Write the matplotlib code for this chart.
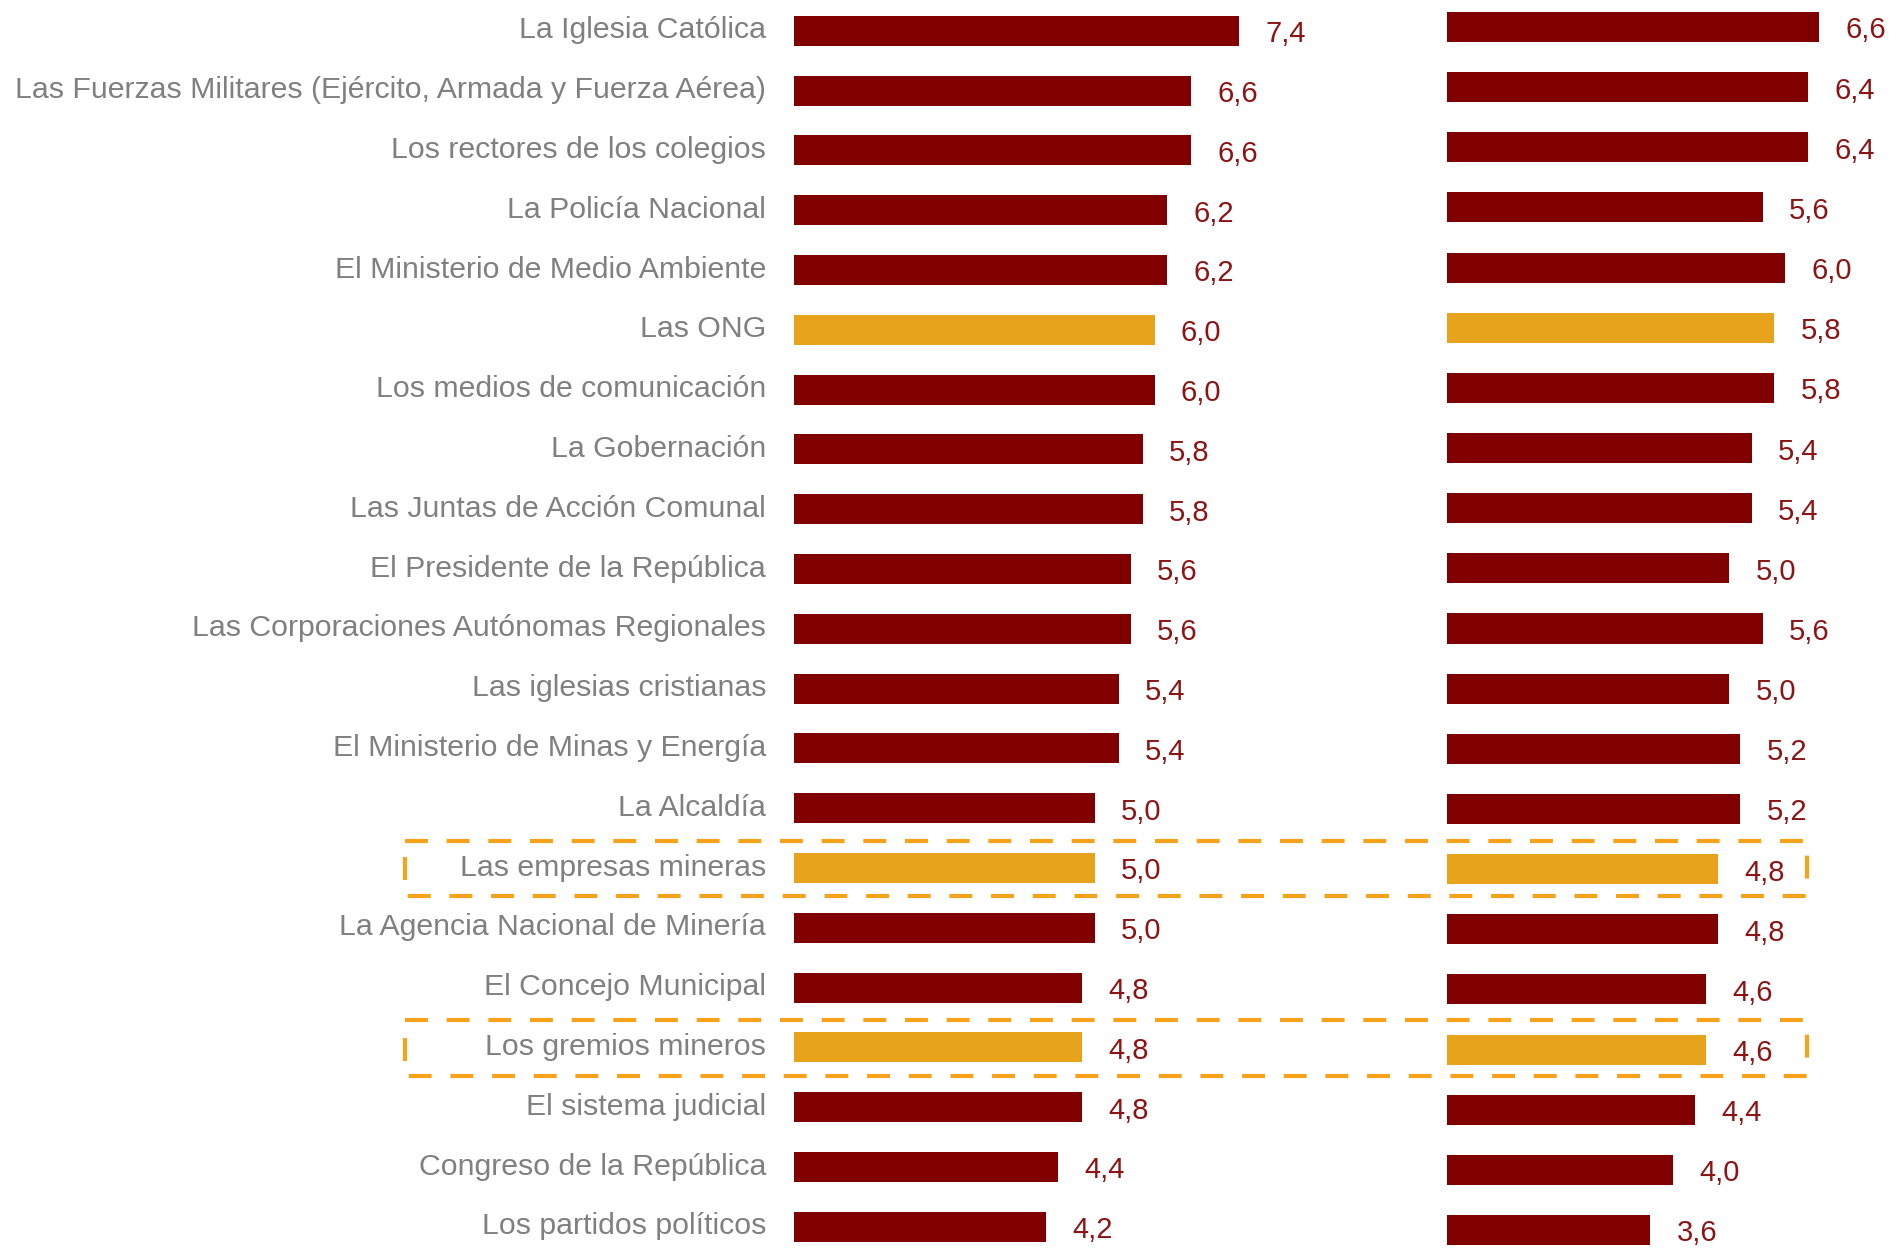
import numpy as np
import matplotlib.pyplot as plt
import matplotlib.transforms as mtransforms
from matplotlib.patches import Rectangle

plt.rcParams['font.family'] = ['Liberation Sans', 'DejaVu Sans']

# data
categories = ['La Iglesia Católica',
              'Las Fuerzas Militares (Ejército, Armada y Fuerza Aérea)',
              'Los rectores de los colegios',
              'La Policía Nacional',
              'El Ministerio de Medio Ambiente',
              'Las ONG',
              'Los medios de comunicación',
              'La Gobernación',
              'Las Juntas de Acción Comunal',
              'El Presidente de la República',
              'Las Corporaciones Autónomas Regionales',
              'Las iglesias cristianas',
              'El Ministerio de Minas y Energía',
              'La Alcaldía',
              'Las empresas mineras',
              'La Agencia Nacional de Minería',
              'El Concejo Municipal',
              'Los gremios mineros',
              'El sistema judicial',
              'Congreso de la República',
              'Los partidos políticos']
left_vals = [7.4, 6.6, 6.6, 6.2, 6.2, 6.0, 6.0, 5.8, 5.8, 5.6, 5.6,
             5.4, 5.4, 5.0, 5.0, 5.0, 4.8, 4.8, 4.8, 4.4, 4.2]
right_vals = [6.6, 6.4, 6.4, 5.6, 6.0, 5.8, 5.8, 5.4, 5.4, 5.0, 5.6,
              5.0, 5.2, 5.2, 4.8, 4.8, 4.6, 4.6, 4.4, 4.0, 3.6]
highlight = ['Las ONG', 'Las empresas mineras', 'Los gremios mineros']
boxed = ['Las empresas mineras', 'Los gremios mineros']

RED = '#800000'
GOLD = '#E8A31C'
VAL = '#8C1414'
GRAY = '#808080'
BOX = '#F7A21B'

W, H = 1895, 1251
fig = plt.figure(figsize=(W / 100, H / 100), dpi=100)

y = np.arange(len(categories))
colors = [GOLD if c in highlight else RED for c in categories]

# left panel: x0 at 794px, 60.1 px per unit; rows 30.8px + 59.8px*i
axL = fig.add_axes([794 / W, 0, 480 / W, 1])
axL.set_xlim(0, 480 / 60.1)
axL.set_ylim((H - 30.8) / 59.8, -30.8 / 59.8)
axL.barh(y, left_vals, height=0.5, color=colors)

# right panel: x0 at 1447px, 56.4 px per unit
axR = fig.add_axes([1447 / W, 0, 440 / W, 1])
axR.set_xlim(0, 440 / 56.4)
axR.set_ylim((H - 27) / 60.15, -27 / 60.15)
axR.barh(y, right_vals, height=0.5, color=colors)

for ax, vals in [(axL, left_vals), (axR, right_vals)]:
    ax.patch.set_visible(False)
    for yi, v in zip(y, vals):
        ax.annotate(f'{v:.1f}'.replace('.', ','), (v, yi),
                    xytext=(19, -2.5), textcoords='offset points',
                    ha='left', va='center', fontsize=21, color=VAL,
                    annotation_clip=False)
    for s in ax.spines.values():
        s.set_visible(False)
    ax.set_xticks([])

axL.set_yticks(y)
axL.set_yticklabels(categories, fontsize=21.8, color=GRAY)
axL.tick_params(axis='y', length=0, pad=20)
shift = mtransforms.ScaledTranslation(0, 2.5 / 72, fig.dpi_scale_trans)
for lab in axL.get_yticklabels():
    lab.set_transform(lab.get_transform() + shift)
axR.set_yticks([])

# dashed boxes around mining rows
x0 = (405 - 794) / 60.1
x1 = (1807 - 794) / 60.1
for c in boxed:
    i = categories.index(c)
    r = Rectangle((x0, i - 0.45), x1 - x0, 0.92, fill=False,
                  edgecolor=BOX, linewidth=3, linestyle=(0, (5.5, 4.5)),
                  clip_on=False, joinstyle='round', zorder=5)
    axL.add_patch(r)

fig.savefig('out.png', dpi=100)
